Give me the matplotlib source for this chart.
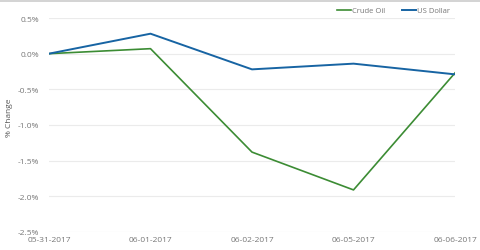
import matplotlib
matplotlib.use("Agg")
import matplotlib.pyplot as plt
from matplotlib.lines import Line2D

dates = ["05-31-2017", "06-01-2017", "06-02-2017", "06-05-2017", "06-06-2017"]
crude_oil = [0.0, 0.07, -1.38, -1.91, -0.27]
us_dollar = [0.0, 0.28, -0.22, -0.14, -0.29]
yticks = [0.5, 0.0, -0.5, -1.0, -1.5, -2.0, -2.5]

green = "#3c8c34"
blue = "#1764a3"
grey = "#777777"

plt.rcParams["font.family"] = "Open Sans"

fig = plt.figure(figsize=(4.8, 2.51), dpi=100)
ax = fig.add_axes([49 / 480, 18 / 251, 406 / 480, 214 / 251])

x = list(range(len(dates)))
ax.plot(x, crude_oil, color=green, lw=1.2, label="Crude Oil")
ax.plot(x, us_dollar, color=blue, lw=1.4, label="US Dollar")

ax.set_xlim(0, len(dates) - 1)
ax.set_ylim(-2.5, 0.5)
ax.set_yticks(yticks)
ax.set_yticklabels([f"{v:.1f}%" for v in yticks])
ax.set_xticks(x)
ax.set_xticklabels(dates)
ax.tick_params(axis="both", length=0, labelsize=6, colors=grey)
ax.tick_params(axis="y", pad=7)
ax.tick_params(axis="x", pad=3)
ax.grid(axis="y", color="#ebebeb", lw=0.8)
ax.set_axisbelow(True)
for s in ax.spines.values():
    s.set_visible(False)

ax.set_ylabel("% Change", fontsize=6, color="#555555")
ax.yaxis.set_label_coords(-0.088, 0.54)

fig.add_artist(Line2D([0, 1], [1 - 1.5 / 251, 1 - 1.5 / 251], color="#cccccc", lw=1.2))

leg = fig.legend(loc="upper right", bbox_to_anchor=(0.952, 0.995), ncol=2, frameon=False,
                 fontsize=5.5, handlelength=1.9, handletextpad=0.1, columnspacing=2.2)
for t in leg.get_texts():
    t.set_color(grey)

fig.savefig("out.png", dpi=100)
